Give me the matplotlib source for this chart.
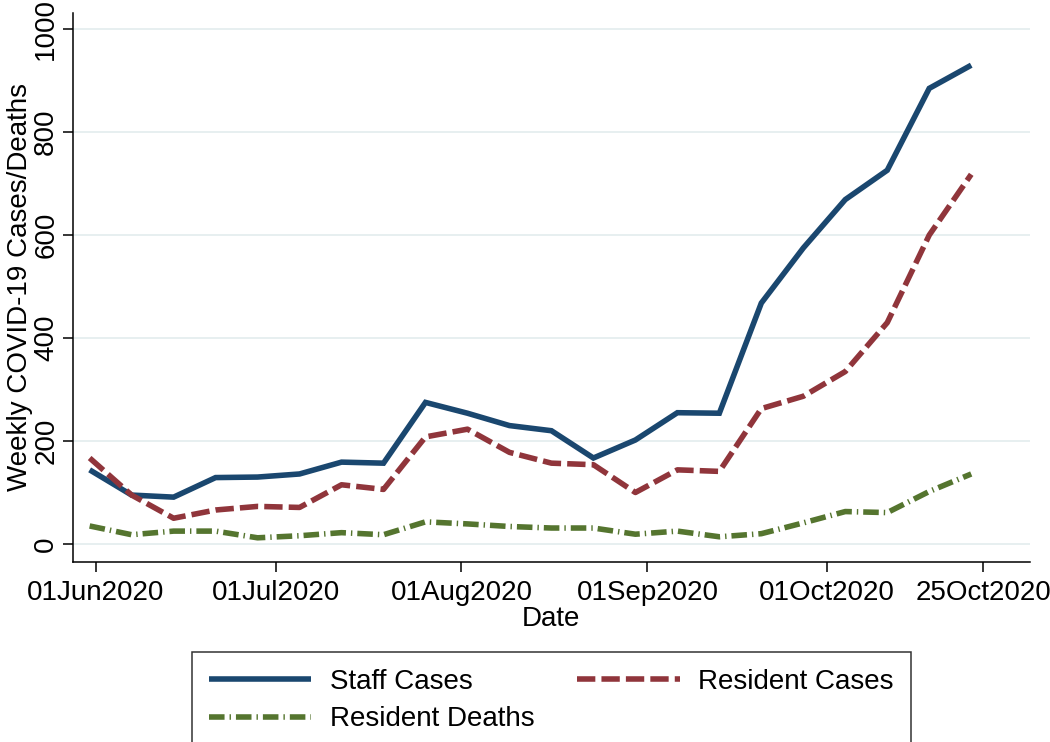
import numpy as np
import matplotlib
matplotlib.use('Agg')
import matplotlib.pyplot as plt
import matplotlib.dates as mdates

plt.rcParams['font.family'] = ['Liberation Sans', 'DejaVu Sans']

# weekly data
weeks = ['2020-05-31', '2020-06-07', '2020-06-14', '2020-06-21', '2020-06-28',
         '2020-07-05', '2020-07-12', '2020-07-19', '2020-07-26', '2020-08-02',
         '2020-08-09', '2020-08-16', '2020-08-23', '2020-08-30', '2020-09-06',
         '2020-09-13', '2020-09-20', '2020-09-27', '2020-10-04', '2020-10-11',
         '2020-10-18', '2020-10-25']
staff_cases = [144, 95, 91, 129, 130, 136, 159, 157, 275, 254, 230, 220,
               167, 202, 255, 254, 468, 575, 669, 726, 885, 930]
resident_cases = [167, 95, 50, 66, 73, 71, 115, 106, 208, 223, 178, 157,
                  154, 100, 144, 141, 263, 287, 335, 430, 600, 718]
resident_deaths = [35, 18, 25, 25, 12, 16, 22, 18, 43, 39, 34, 31,
                   31, 19, 25, 14, 20, 41, 63, 61, 102, 136]

tick_dates = ['2020-06-01', '2020-07-01', '2020-08-01', '2020-09-01', '2020-10-01', '2020-10-27']
tick_labels = ['01Jun2020', '01Jul2020', '01Aug2020', '01Sep2020', '01Oct2020', '25Oct2020']
y_ticks = [0, 200, 400, 600, 800, 1000]

x = np.array(weeks, dtype='datetime64[D]')

fig = plt.figure(figsize=(10.5, 7.42), dpi=100)
ax = fig.add_axes([0.0692, 0.2430, 0.9117, 0.7399])

fs = 20
lw = 4.0
l1, = ax.plot(x, staff_cases, color='#1a476f', lw=lw, solid_capstyle='butt',
              solid_joinstyle='miter', label='Staff Cases', zorder=3)
l2, = ax.plot(x, resident_cases, color='#90353b', lw=lw, dashes=(3.3, 1.1),
              dash_capstyle='butt', label='Resident Cases', zorder=3)
l3, = ax.plot(x, resident_deaths, color='#55752f', lw=lw, dashes=(2.8, 0.9, 0.25, 0.9),
              dash_capstyle='butt', label='Resident Deaths', zorder=3)

ax.set_xlim(mdates.date2num(np.datetime64('2020-05-28T04:00')),
            mdates.date2num(np.datetime64('2020-11-03T19:00')))
ax.set_ylim(-34.4, 1032)

ax.set_xticks(mdates.date2num(np.array(tick_dates, dtype='datetime64[D]')))
ax.set_xticklabels(tick_labels)
ax.set_yticks(y_ticks)
ax.set_yticklabels([str(v) for v in y_ticks], rotation=90, va='center')

ax.tick_params(axis='both', labelsize=fs, length=7.2, width=1.1, color='black')
ax.tick_params(axis='x', pad=6)
ax.tick_params(axis='y', pad=2.5)

ax.grid(axis='y', color='#e3ecee', lw=1.2, zorder=0)
ax.set_axisbelow(True)
for s in ['top', 'right']:
    ax.spines[s].set_visible(False)
for s in ['left', 'bottom']:
    ax.spines[s].set_linewidth(1.1)
    ax.spines[s].set_color('black')

ax.set_xlabel('Date', fontsize=fs, labelpad=0)
ax.set_ylabel('Weekly COVID-19 Cases/Deaths', fontsize=fs, labelpad=0)

leg = fig.legend([l1, l3, l2], ['Staff Cases', 'Resident Deaths', 'Resident Cases'],
                 ncol=2, loc='upper center', bbox_to_anchor=(0.525, 0.1213),
                 fontsize=fs, frameon=True, fancybox=False, edgecolor='black',
                 handlelength=3.7, handletextpad=0.66, columnspacing=1.55,
                 labelspacing=0.42, borderpad=0.6, borderaxespad=0)
leg.get_frame().set_linewidth(1.1)

fig.savefig('out.png', dpi=100)
